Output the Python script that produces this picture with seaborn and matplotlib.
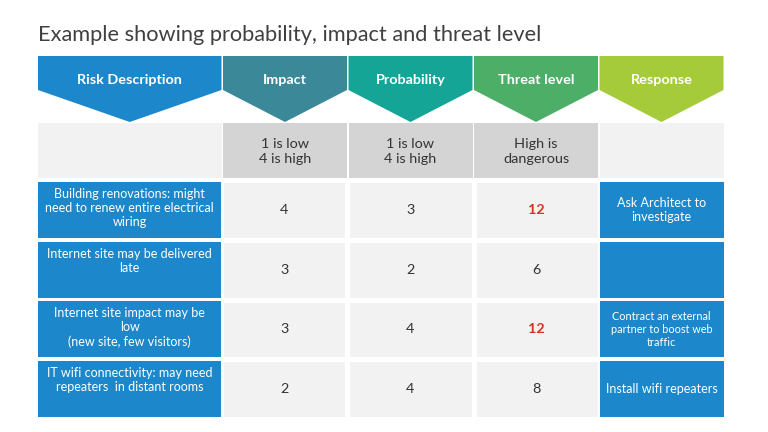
import numpy as np
import pandas as pd
import matplotlib
matplotlib.use("Agg")
import matplotlib.pyplot as plt
from matplotlib.patches import Polygon, Rectangle
from matplotlib.colors import ListedColormap
import seaborn as sns

# ---- data ----
title = "Example showing probability, impact and threat level"
headers = ["Risk Description", "Impact", "Probability", "Threat level", "Response"]
scale_notes = ["", "1 is low\n4 is high", "1 is low\n4 is high", "High is\ndangerous", ""]
risks = [
    "Building renovations: might\nneed to renew entire electrical\nwiring",
    "Internet site may be delivered\nlate",
    "Internet site impact may be\nlow\n(new site, few visitors)",
    "IT wifi connectivity: may need\nrepeaters  in distant rooms",
]
impact = [4, 3, 3, 2]
probability = [3, 2, 4, 4]
threat = [12, 6, 12, 8]
responses = [
    "Ask Architect to\ninvestigate",
    "",
    "Contract an external\npartner to boost web\ntraffic",
    "Install wifi repeaters",
]

# ---- style ----
header_colors = ["#1C87CA", "#3A8898", "#14A596", "#4DAE68", "#A6CB3A"]
cell_blue = "#1C87CA"
cell_light = "#F2F2F2"
note_dark = "#D4D4D4"
text_dark = "#333333"
danger_red = "#D8312A"
danger_level = 12

sns.set_theme(style="white")
plt.rcParams["font.family"] = ["Lato", "DejaVu Sans"]

W, H = 768, 432
fig = plt.figure(figsize=(W / 100, H / 100), dpi=100)
fig.patch.set_facecolor("white")
ax = fig.add_axes([0, 0, 1, 1])
ax.set_xlim(0, W)
ax.set_ylim(H, 0)
ax.axis("off")

# layout (pixels)
left, gap = 38, 1.5
col_w = [183.5, 124, 124, 124, 124]
col_x = left + np.concatenate([[0], np.cumsum(np.array(col_w[:-1]) + gap)])
head_top, head_shoulder, head_tip = 56, 90, 122
note_top, note_h = 123, 55
row_top0, row_h, row_pitch = 182, 56, 59.7
row_tops = [row_top0 + i * row_pitch for i in range(len(risks))]

ax.text(left, 35, title, fontsize=15.7, color="#404040", va="center", ha="left")

# header chevrons
for i, name in enumerate(headers):
    x0, x1 = col_x[i], col_x[i] + col_w[i]
    xm = (x0 + x1) / 2
    pts = [(x0, head_top), (x1, head_top), (x1, head_shoulder), (xm, head_tip), (x0, head_shoulder)]
    ax.add_patch(Polygon(pts, closed=True, facecolor=header_colors[i], edgecolor="none"))
    ax.text(xm, 80, name, color="white", fontsize=10.4, fontweight="bold", ha="center", va="center")

# scale notes row
for i, note in enumerate(scale_notes):
    fc = note_dark if note else cell_light
    ax.add_patch(Rectangle((col_x[i], note_top), col_w[i], note_h, facecolor=fc, edgecolor="none", zorder=0))
    if note:
        ax.text(col_x[i] + col_w[i] / 2, note_top + note_h / 2 + 1, note, fontsize=10.4,
                color=text_dark, ha="center", va="center", linespacing=1.25)

# risk descriptions and responses
for r, top in enumerate(row_tops):
    ax.add_patch(Rectangle((col_x[0], top), col_w[0], row_h, facecolor=cell_blue, edgecolor="none"))
    ax.text(col_x[0] + col_w[0] / 2, top + 6, risks[r], color="white", fontsize=9,
            ha="center", va="top", linespacing=1.2)
    ax.add_patch(Rectangle((col_x[4], top), col_w[4], row_h, facecolor=cell_blue, edgecolor="none"))
    small = responses[r].count("\n") >= 2
    ax.text(col_x[4] + col_w[4] / 2, top + row_h / 2, responses[r], color="white",
            fontsize=7.8 if small else 9, ha="center", va="center", linespacing=1.25)

# numeric block as a heatmap
scores = pd.DataFrame({"Impact": impact, "Probability": probability, "Threat level": threat})
lw_pt = 2.2
lw_px = lw_pt * 100 / 72
bx0 = col_x[1] - lw_px / 2
bx1 = col_x[3] + col_w[3] + lw_px / 2
by0 = row_tops[0] - lw_px / 2
by1 = row_tops[-1] + row_h + lw_px / 2
hax = fig.add_axes([bx0 / W, 1 - by1 / H, (bx1 - bx0) / W, (by1 - by0) / H])
sns.heatmap(scores, ax=hax, cmap=ListedColormap([cell_light]), cbar=False, annot=True, fmt="d",
            linewidths=lw_pt, linecolor="white", annot_kws={"fontsize": 10.4})
hax.set_xticks([])
hax.set_yticks([])
hax.set_xlabel("")
hax.set_ylabel("")
for t in hax.texts:
    t.set_color(text_dark)
for r, lvl in enumerate(threat):
    if lvl >= danger_level:
        hax.texts[r * 3 + 2].set_color(danger_red)
        hax.texts[r * 3 + 2].set_fontweight("bold")

fig.savefig("out.png", dpi=100, facecolor="white")
